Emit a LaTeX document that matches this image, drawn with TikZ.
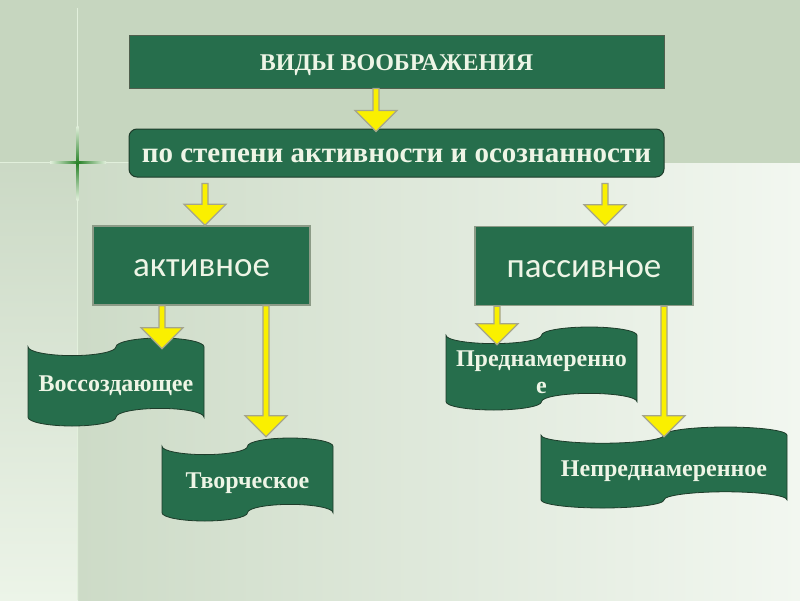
\documentclass[tikz,border=0pt]{standalone}
\usepackage{fontspec}
\setmainfont{Liberation Serif}
\newfontfamily\carl{Carlito}
\usetikzlibrary{calc}
\definecolor{bgtop}{RGB}{198,214,191}
\definecolor{bgl}{RGB}{205,219,199}
\definecolor{bgr}{RGB}{242,247,240}
\definecolor{stripa}{RGB}{203,217,197}
\definecolor{stripb}{RGB}{236,244,232}
\definecolor{boxg}{RGB}{38,110,76}
\definecolor{txt}{RGB}{238,245,230}
\definecolor{edgeA}{RGB}{80,95,78}
\definecolor{edgeB}{RGB}{30,60,42}
\definecolor{edgeC}{RGB}{140,155,135}
\definecolor{arrY}{RGB}{250,240,0}
\definecolor{arrE}{RGB}{165,165,140}
\definecolor{linec}{RGB}{226,240,220}
\definecolor{glow}{RGB}{40,130,40}
\tikzset{
  hbox/.style={draw=edgeA, line width=1pt, fill=boxg, minimum width=535pt, minimum height=53pt, inner sep=0pt, text=txt, text height=18.8pt, text depth=0pt, font=\bfseries\fontsize{24}{28}\selectfont},
  rbox/.style={draw=edgeB, line width=1pt, fill=boxg, rounded corners=8pt, minimum width=535pt, minimum height=48pt, inner sep=0pt, text=txt, text height=19.3pt, text depth=0pt, font=\bfseries\fontsize{29}{32}\selectfont},
  kbox/.style={draw=edgeC, line width=1.5pt, fill=boxg, minimum width=217pt, minimum height=79pt, inner sep=0pt, text=txt, text height=22pt, text depth=0pt, font=\carl\fontsize{35}{40}\selectfont},
  tapefill/.style={draw=edgeB, line width=0.8pt, fill=boxg},
  tapetext/.style={inner sep=0pt, text=txt, align=center, font=\bfseries\fontsize{24}{27}\selectfont},
  blockarrow/.style={draw=arrE, line width=1.2pt, fill=arrY, line join=miter,
    to path={let \p1=(\tikztostart), \p2=(\tikztotarget) in
      (\x1-3pt,\y1) -- (\x1-3pt,\y2+21pt) -- (\x1-21pt,\y2+21pt) -- (\x1,\y2)
      -- (\x1+21pt,\y2+21pt) -- (\x1+3pt,\y2+21pt) -- (\x1+3pt,\y1) -- cycle}}
}
\newcommand\tape[6]{%
  \pgfmathsetmacro\tpA{(#5-#3)/10}%
  \pgfmathsetmacro\tpW{(#4-#2)/4}%
  \filldraw[tapefill] (#2,#3+\tpA)
    arc[start angle=180,end angle=360,x radius=\tpW pt,y radius=\tpA pt]
    arc[start angle=180,end angle=0,x radius=\tpW pt,y radius=\tpA pt]
    -- (#4,#5-\tpA)
    arc[start angle=0,end angle=180,x radius=\tpW pt,y radius=\tpA pt]
    arc[start angle=0,end angle=-180,x radius=\tpW pt,y radius=\tpA pt]
    -- cycle;
  \pgfmathsetmacro\tpX{(#2+#4)/2}%
  \pgfmathsetmacro\tpY{(#3+#5)/2+3.5}%
  \pgfmathsetmacro\tpWW{#4-#2}%
  \pgfmathsetmacro\tpHH{#5-#3}%
  \node[tapetext, minimum width=\tpWW pt, minimum height=\tpHH pt] (#1) at (\tpX,\tpY) {#6};
}
\begin{document}
\begin{tikzpicture}[x=1pt,y=-1pt]
\useasboundingbox (0,0) rectangle (800,600);
% background
\fill[bgtop] (0,0) rectangle (800,163);
\shade[left color=bgl, right color=bgr] (78,163) rectangle (800,600);
\shade[top color=stripa, bottom color=stripb] (0,163) rectangle (78,600);
\draw[line width=1.5pt, linec] (77.5,8) -- (77.5,600);
\draw[line width=1.5pt, linec] (0,162.5) -- (129,162.5);
\shade[left color=linec, right color=linec, middle color=glow] (50,161.5) rectangle (106,163.5);
\shade[top color=linec, bottom color=linec, middle color=glow] (76.5,126) rectangle (78.5,200);
% boxes
\node[hbox] (vid) at (396.5,61.5) {ВИДЫ ВООБРАЖЕНИЯ};
\node[rbox] (deg) at (396.5,153) {по степени активности и осознанности};
\node[kbox] (act) at (201.5,265.5) {активное};
\node[kbox, minimum width=218pt] (pas) at (584,266) {пассивное};
% banners
\tape{vos}{28}{338}{204}{426}{Воссоздающее}
\tape{tvo}{162}{438}{333}{521}{Творческое}
\tape{pre}{446}{327}{637}{410}{Преднамеренно\\е}
\tape{nep}{541}{427}{787}{508}{Непреднамеренное}
% arrows
\draw[blockarrow] ([xshift=-20.5pt]vid.south) to ([xshift=-20.5pt,yshift=-3pt]deg.north);
\draw[blockarrow] ([xshift=-191.5pt,yshift=-6pt]deg.south) to ([xshift=3.5pt]act.north);
\draw[blockarrow] ([xshift=208.5pt,yshift=-6pt]deg.south) to ([xshift=21pt]pas.north);
\draw[blockarrow] ([xshift=-39.5pt]act.south) to ([xshift=46pt,yshift=-7.5pt]vos.north);
\draw[blockarrow] ([xshift=64.5pt]act.south) to ([xshift=18.5pt,yshift=4.5pt]tvo.north);
\draw[blockarrow] ([xshift=-87pt]pas.south) to ([xshift=-44.5pt,yshift=-14.5pt]pre.north);
\draw[blockarrow] ([xshift=80pt]pas.south) to ([yshift=-6.5pt]nep.north);
\end{tikzpicture}
\end{document}
